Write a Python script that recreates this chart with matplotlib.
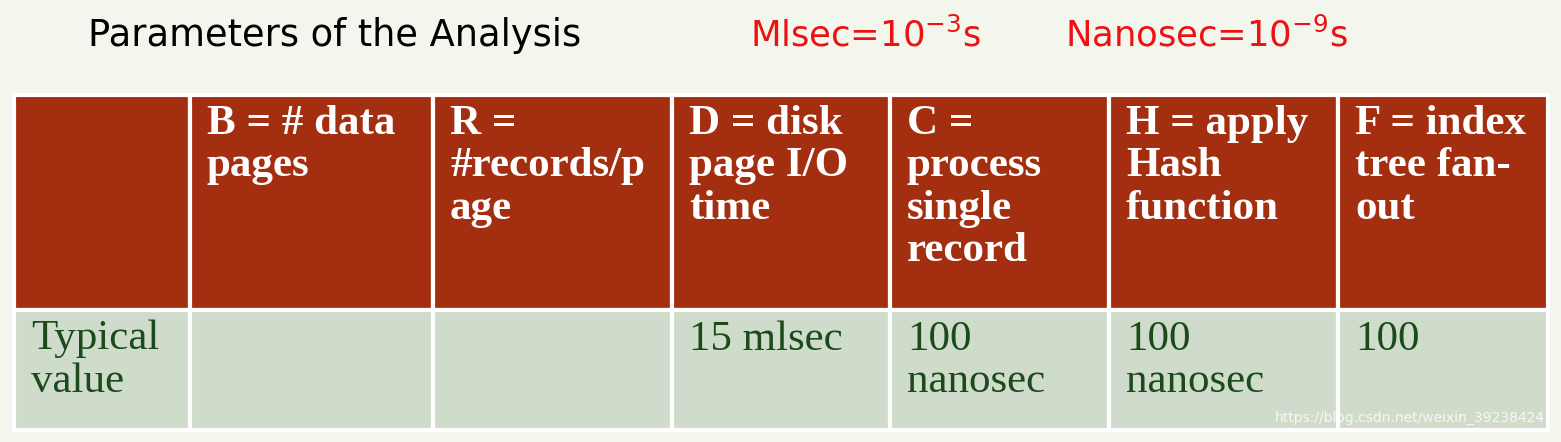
import matplotlib.pyplot as plt
from matplotlib.patches import Rectangle

# table content
headers = ['', 'B = # data\npages', 'R =\n#records/p\nage', 'D = disk\npage I/O\ntime',
           'C =\nprocess\nsingle\nrecord', 'H = apply\nHash\nfunction', 'F = index\ntree fan-\nout']
values = ['Typical\nvalue', '', '', '15 mlsec', '100\nnanosec', '100\nnanosec', '100']
col_edges = [14, 190, 433, 672, 890, 1109, 1338, 1548]
row_edges = [95, 310, 430]

fig = plt.figure(figsize=(15.61, 4.42), dpi=100)
fig.patch.set_facecolor('#f3f6ec')
ax = fig.add_axes([0, 0, 1, 1])
ax.set_xlim(0, 1561)
ax.set_ylim(442, 0)
ax.axis('off')

ax.text(88, 35, 'Parameters of the Analysis', fontsize=26.5, family='DejaVu Sans',
        va='center', color='black')
ax.text(750, 35, r'Mlsec=10$^{-3}$s', fontsize=25.5, family='DejaVu Sans',
        va='center', color='#ee1111')
ax.text(1065, 35, r'Nanosec=10$^{-9}$s', fontsize=25.5, family='DejaVu Sans',
        va='center', color='#ee1111')

for i in range(len(headers)):
    x0, x1 = col_edges[i], col_edges[i + 1]
    # header cell
    ax.add_patch(Rectangle((x0, row_edges[0]), x1 - x0, row_edges[1] - row_edges[0],
                           facecolor='#a32e10', edgecolor='white', linewidth=3))
    ax.text(x0 + 17, row_edges[0] + 10, headers[i], fontsize=31, family='Liberation Serif',
            weight='bold', color='white', va='top', linespacing=1.15)
    # value cell
    ax.add_patch(Rectangle((x0, row_edges[1]), x1 - x0, row_edges[2] - row_edges[1],
                           facecolor='#d0dccb', edgecolor='white', linewidth=3))
    ax.text(x0 + 17, row_edges[1] + 10, values[i], fontsize=31, family='Liberation Serif',
            color='#1b4a1b', va='top', linespacing=1.15)

ax.text(1545, 425, 'https://blog.csdn.net/weixin_39238424', fontsize=10,
        color='#ffffff', alpha=0.8, ha='right', va='bottom')

fig.savefig('out.png', dpi=100, facecolor=fig.get_facecolor())
